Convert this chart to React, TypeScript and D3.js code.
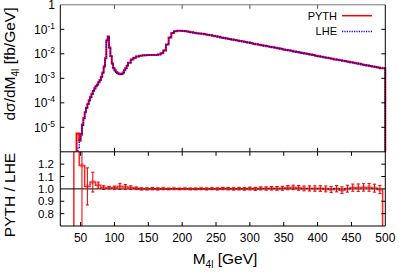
import React, { useEffect, useRef } from 'react';
import * as d3 from 'd3';

// dsigma/dM4l in fb/GeV: 2 GeV bins from 40 to 120, then 4 GeV bins up to 500
const sigmaEdges = d3.range(40, 120, 2).concat(d3.range(120, 501, 4));
const lheSigma = [
  // 2 GeV bins, 40-120
  0, 0, 0, 1.5e-6, 3e-6, 5.5e-6, 1.2e-5, 2.3e-5, 4e-5, 6.2e-5,
  9e-5, 1.25e-4, 1.7e-4, 2.3e-4, 3e-4, 3.8e-4, 4.6e-4, 5.6e-4, 6.8e-4, 8.5e-4,
  1.15e-3, 1.7e-3, 3e-3, 6.5e-3, 3.5e-2, 5e-2, 1.8e-2, 8e-3, 4e-3, 2.6e-3,
  2.1e-3, 1.8e-3, 1.6e-3, 1.5e-3, 1.45e-3, 1.5e-3, 1.7e-3, 2.1e-3, 2.6e-3, 3.2e-3,
  // 4 GeV bins, 120-500
  4.3e-3, 5.8e-3, 6.9e-3, 7.7e-3, 8.3e-3, 8.6e-3, 8.8e-3, 8.9e-3, 8.9e-3, 8.9e-3,
  9e-3, 9.4e-3, 1.05e-2, 1.35e-2, 2.4e-2, 4.6e-2, 7e-2, 8.3e-2, 8.8e-2, 8.8e-2,
  8.6e-2, 8.3e-2, 8e-2, 7.6e-2, 7.2e-2, 6.9e-2, 6.8e-2, 6.55e-2, 6.27e-2, 5.97e-2,
  5.69e-2, 5.42e-2, 5.16e-2, 4.91e-2, 4.68e-2, 4.45e-2, 4.24e-2, 4.04e-2, 3.85e-2, 3.66e-2,
  3.48e-2, 3.32e-2, 3.16e-2, 3.01e-2, 2.86e-2, 2.73e-2, 2.6e-2, 2.47e-2, 2.35e-2, 2.24e-2,
  2.13e-2, 2.03e-2, 1.94e-2, 1.84e-2, 1.75e-2, 1.67e-2, 1.59e-2, 1.51e-2, 1.44e-2, 1.37e-2,
  1.31e-2, 1.24e-2, 1.19e-2, 1.13e-2, 1.07e-2, 1.02e-2, 9.75e-3, 9.28e-3, 8.84e-3, 8.41e-3,
  8.01e-3, 7.63e-3, 7.26e-3, 6.92e-3, 6.59e-3, 6.27e-3, 5.97e-3, 5.69e-3, 5.41e-3, 5.15e-3,
  4.91e-3, 4.68e-3, 4.45e-3, 4.24e-3, 4.04e-3, 3.84e-3, 3.66e-3, 3.48e-3, 3.32e-3, 3.16e-3,
  3.01e-3, 2.86e-3, 2.73e-3, 2.6e-3, 2.55e-3,
];
const pythSigma = [
  0, 0, 5.6e-6, 5.6e-6, 2.8e-6, 5e-6, 1.3e-5, 2.4e-5, 4.1e-5, 6.3e-5,
  9.2e-5, 1.27e-4, 1.75e-4, 2.35e-4, 3e-4, 3.9e-4, 4.7e-4, 5.6e-4, 6.9e-4, 8.6e-4,
  1.16e-3, 1.72e-3, 3e-3, 6.6e-3, 3.5e-2, 5.05e-2, 1.8e-2, 8.1e-3, 4e-3, 2.6e-3,
  2.15e-3, 1.82e-3, 1.63e-3, 1.52e-3, 1.47e-3, 1.52e-3, 1.72e-3, 2.12e-3, 2.62e-3, 3.22e-3,
  4.33e-3, 5.83e-3, 6.92e-3, 7.7e-3, 8.3e-3, 8.6e-3, 8.8e-3, 8.9e-3, 8.9e-3, 8.9e-3,
  9e-3, 9.4e-3, 1.05e-2, 1.35e-2, 2.4e-2, 4.6e-2, 7e-2, 8.3e-2, 8.8e-2, 8.8e-2,
  8.6e-2, 8.3e-2, 8e-2, 7.6e-2, 7.2e-2, 6.9e-2, 6.8e-2, 6.55e-2, 6.27e-2, 5.97e-2,
  5.69e-2, 5.42e-2, 5.16e-2, 4.91e-2, 4.68e-2, 4.45e-2, 4.24e-2, 4.04e-2, 3.85e-2, 3.66e-2,
  3.48e-2, 3.32e-2, 3.16e-2, 3.01e-2, 2.86e-2, 2.73e-2, 2.6e-2, 2.47e-2, 2.35e-2, 2.24e-2,
  2.13e-2, 2.03e-2, 1.94e-2, 1.84e-2, 1.75e-2, 1.67e-2, 1.59e-2, 1.51e-2, 1.44e-2, 1.38e-2,
  1.32e-2, 1.25e-2, 1.19e-2, 1.13e-2, 1.07e-2, 1.02e-2, 9.75e-3, 9.28e-3, 8.84e-3, 8.41e-3,
  8.01e-3, 7.63e-3, 7.26e-3, 6.9e-3, 6.56e-3, 6.27e-3, 5.92e-3, 5.69e-3, 5.41e-3, 5.15e-3,
  4.91e-3, 4.72e-3, 4.49e-3, 4.28e-3, 4.08e-3, 3.88e-3, 3.68e-3, 3.48e-3, 3.32e-3, 3.16e-3,
  3.01e-3, 2.86e-3, 2.73e-3, 2.6e-3, 2.55e-3,
];

// PYTH / LHE ratio, 8 GeV bins from 40 to 496
const ratioEdges = d3.range(40, 497, 8);
const ratioVals = [
  1.6, 1.19, 1.02, 1.055, 1.03, 1.01, 1.01, 1.01, 1.02, 1.015,
  1.01, 1.005, 1.0, 1.0, 1.002, 1.0, 1.002, 1.0, 1.002, 1.0,
  1.002, 1.0, 1.0, 1.002, 1.0, 1.002, 1.0, 1.003, 1.002, 1.0,
  1.002, 1.0, 1.003, 1.0, 1.004, 1.003, 1.005, 1.004, 1.005, 1.01,
  1.012, 1.008, 1.004, 1.004, 1.003, 1.003, 1.0, 0.995, 1.002, 0.99,
  1.002, 1.01, 1.01, 1.012, 1.012, 1.006, 0.995,
];
const ratioErrs = [
  0.2, 0.7, 0.15, 0.08, 0.025, 0.015, 0.01, 0.012, 0.025, 0.02,
  0.015, 0.01, 0.008, 0.008, 0.008, 0.008, 0.007, 0.005, 0.005, 0.005,
  0.005, 0.006, 0.006, 0.006, 0.007, 0.007, 0.008, 0.008, 0.009, 0.009,
  0.01, 0.01, 0.011, 0.012, 0.012, 0.013, 0.014, 0.015, 0.016, 0.017,
  0.018, 0.019, 0.02, 0.021, 0.022, 0.023, 0.024, 0.025, 0.026, 0.027,
  0.028, 0.029, 0.03, 0.03, 0.031, 0.032, 0.033,
];

const xTicksTop = [100, 200, 300, 400];
const xTicksBottom = [50, 100, 150, 200, 250, 300, 350, 400, 450, 500];
const yTicksTop = [1, 1e-1, 1e-2, 1e-3, 1e-4, 1e-5];
const yTickExps = ['', '-1', '-2', '-3', '-4', '-5'];
const yTicksBottom = [0.8, 0.9, 1.0, 1.1, 1.2];
const yTickLabelsBottom = ['0.8', '0.9', '1.0', '1.1', '1.2'];
const legendNames = ['PYTH', 'LHE'];

const FONT = '"Liberation Sans", Arial, Helvetica, sans-serif';

const App = () => {
  const ref = useRef(null);

  useEffect(() => {
    const svg = d3.select(ref.current);
    svg.selectAll('*').remove();

    const left = 60.3, right = 385.3;
    const top = 4.8, mid = 151.8, bottom = 226;

    const x = d3.scaleLinear().domain([20, 500]).range([left, right]);
    const yTop = d3.scaleLog().domain([1e-6, 1]).range([mid, top]);
    const yBot = d3.scaleLinear().domain([0.7, 1.3]).range([bottom, mid]);

    const defs = svg.append('defs');
    defs.append('clipPath').attr('id', 'clipTop')
      .append('rect').attr('x', left).attr('y', top).attr('width', right - left + 1.5).attr('height', mid - top);
    defs.append('clipPath').attr('id', 'clipBot')
      .append('rect').attr('x', left).attr('y', mid).attr('width', right - left).attr('height', bottom - mid);

    const line = d3.line();

    // step outline of a histogram
    const steps = (edges, vals, yFn, floor) => {
      const pts = [[x(edges[0]), floor]];
      vals.forEach((v, i) => {
        const yy = v > 0 ? yFn(v) : floor;
        pts.push([x(edges[i]), yy]);
        pts.push([x(edges[i + 1]), yy]);
      });
      pts.push([x(edges[vals.length]), floor]);
      return line(pts);
    };

    // ---- top panel
    const gTop = svg.append('g').attr('clip-path', 'url(#clipTop)');
    gTop.append('path')
      .attr('d', steps(sigmaEdges, pythSigma, yTop, mid + 5))
      .attr('fill', 'none').attr('stroke', '#ff0000').attr('stroke-width', 2);
    gTop.append('path')
      .attr('d', steps(sigmaEdges, lheSigma, yTop, mid + 5))
      .attr('fill', 'none').attr('stroke', '#0000ff').attr('stroke-width', 1.5)
      .attr('stroke-dasharray', '1.2,1.2');

    // ---- ratio panel
    const gBot = svg.append('g').attr('clip-path', 'url(#clipBot)');
    gBot.append('path')
      .attr('d', steps(ratioEdges, ratioVals, yBot, bottom + 5))
      .attr('fill', 'none').attr('stroke', '#ff2020').attr('stroke-width', 1.5);
    gBot.append('line')
      .attr('x1', left).attr('x2', right).attr('y1', yBot(1)).attr('y2', yBot(1))
      .attr('stroke', '#000').attr('stroke-width', 1);

    const centers = ratioVals.map((_, i) => (ratioEdges[i] + ratioEdges[i + 1]) / 2);
    gBot.selectAll('rect.pt').data(ratioVals).enter().append('rect')
      .attr('x', (d, i) => x(centers[i]) - 2)
      .attr('y', d => yBot(d) - 2)
      .attr('width', 4).attr('height', 4)
      .attr('fill', '#ff6060').attr('opacity', 0.55);
    const eb = gBot.selectAll('g.eb').data(ratioVals).enter().append('g');
    eb.append('line')
      .attr('x1', (d, i) => x(centers[i])).attr('x2', (d, i) => x(centers[i]))
      .attr('y1', (d, i) => yBot(d - ratioErrs[i])).attr('y2', (d, i) => yBot(d + ratioErrs[i]))
      .attr('stroke', '#e00000').attr('stroke-width', 1);
    [-1, 1].forEach(s => {
      eb.append('line')
        .attr('x1', (d, i) => x(centers[i]) - 1.6).attr('x2', (d, i) => x(centers[i]) + 1.6)
        .attr('y1', (d, i) => yBot(d + s * ratioErrs[i])).attr('y2', (d, i) => yBot(d + s * ratioErrs[i]))
        .attr('stroke', '#e00000').attr('stroke-width', 1);
    });

    // ---- frames and ticks
    const tk = 4;
    const frame = svg.append('g').attr('fill', 'none').attr('stroke', '#000').attr('stroke-width', 1);
    frame.append('line').attr('x1', left).attr('x2', right).attr('y1', top).attr('y2', top).attr('stroke', '#777');
    frame.append('line').attr('x1', left).attr('x2', left).attr('y1', top).attr('y2', bottom);
    frame.append('line').attr('x1', right).attr('x2', right).attr('y1', top).attr('y2', bottom);
    frame.append('line').attr('x1', left).attr('x2', right).attr('y1', mid).attr('y2', mid);
    frame.append('line').attr('x1', left).attr('x2', right).attr('y1', bottom).attr('y2', bottom);

    xTicksTop.forEach(t => {
      frame.append('line').attr('x1', x(t)).attr('x2', x(t)).attr('y1', top).attr('y2', top + tk).attr('stroke', '#555');
      frame.append('line').attr('x1', x(t)).attr('x2', x(t)).attr('y1', mid).attr('y2', mid - tk);
    });
    xTicksBottom.filter(t => t < 500).forEach(t => {
      frame.append('line').attr('x1', x(t)).attr('x2', x(t)).attr('y1', mid).attr('y2', mid + tk);
      frame.append('line').attr('x1', x(t)).attr('x2', x(t)).attr('y1', bottom).attr('y2', bottom - tk);
    });
    yTicksTop.slice(1).forEach(t => {
      frame.append('line').attr('x1', left).attr('x2', left + tk).attr('y1', yTop(t)).attr('y2', yTop(t));
      frame.append('line').attr('x1', right).attr('x2', right - tk).attr('y1', yTop(t)).attr('y2', yTop(t));
    });
    yTicksBottom.filter(t => t !== 1).forEach(t => {
      frame.append('line').attr('x1', left).attr('x2', left + tk).attr('y1', yBot(t)).attr('y2', yBot(t));
      frame.append('line').attr('x1', right).attr('x2', right - tk).attr('y1', yBot(t)).attr('y2', yBot(t));
    });

    // ---- tick labels
    const txt = svg.append('g').attr('font-family', FONT).attr('fill', '#000');
    yTicksTop.forEach((t, i) => {
      const el = txt.append('text')
        .attr('x', 55).attr('y', yTop(t) + 4.3)
        .attr('text-anchor', 'end').attr('font-size', 12);
      if (yTickExps[i] === '') {
        el.text('1');
      } else {
        el.append('tspan').text('10');
        el.append('tspan').attr('dy', -5).attr('font-size', 8.5).text(yTickExps[i]);
      }
    });
    yTicksBottom.forEach((t, i) => {
      txt.append('text')
        .attr('x', 54).attr('y', yBot(t) + 4)
        .attr('text-anchor', 'end').attr('font-size', 11.5)
        .text(yTickLabelsBottom[i]);
    });
    xTicksBottom.forEach(t => {
      txt.append('text')
        .attr('x', x(t)).attr('y', 242)
        .attr('text-anchor', 'middle').attr('font-size', 12)
        .text(String(t));
    });

    // ---- axis titles
    const yTitle = txt.append('text')
      .attr('transform', 'translate(15,64) rotate(-90)')
      .attr('text-anchor', 'middle').attr('font-size', 15.5);
    yTitle.append('tspan').text('dσ/dM');
    yTitle.append('tspan').attr('dy', 4).attr('font-size', 10).text('4l');
    yTitle.append('tspan').attr('dy', -4).text(' [fb/GeV]');

    txt.append('text')
      .attr('transform', 'translate(15,195) rotate(-90)')
      .attr('text-anchor', 'middle').attr('font-size', 15.5)
      .text('PYTH / LHE');

    const xTitle = txt.append('text')
      .attr('x', 225).attr('y', 264)
      .attr('text-anchor', 'middle').attr('font-size', 15.5);
    xTitle.append('tspan').text('M');
    xTitle.append('tspan').attr('dy', 4).attr('font-size', 10).text('4l');
    xTitle.append('tspan').attr('dy', -4).text(' [GeV]');

    // ---- legend
    legendNames.forEach((name, i) => {
      const ly = 15.7 + i * 15.8;
      txt.append('text')
        .attr('x', 337).attr('y', ly + 3.8)
        .attr('text-anchor', 'end').attr('font-size', 11)
        .text(name);
      const l = svg.append('line')
        .attr('x1', 342).attr('x2', 372).attr('y1', ly).attr('y2', ly);
      if (i === 0) l.attr('stroke', '#ff0000').attr('stroke-width', 1.5);
      else l.attr('stroke', '#0000ff').attr('stroke-width', 1.5).attr('stroke-dasharray', '1.2,1.2');
    });
  }, []);

  return (
    <svg
      ref={ref}
      width={399}
      height={273}
      style={{ position: 'absolute', left: 0, top: 0, background: '#fff' }}
    />
  );
};

export default App;
